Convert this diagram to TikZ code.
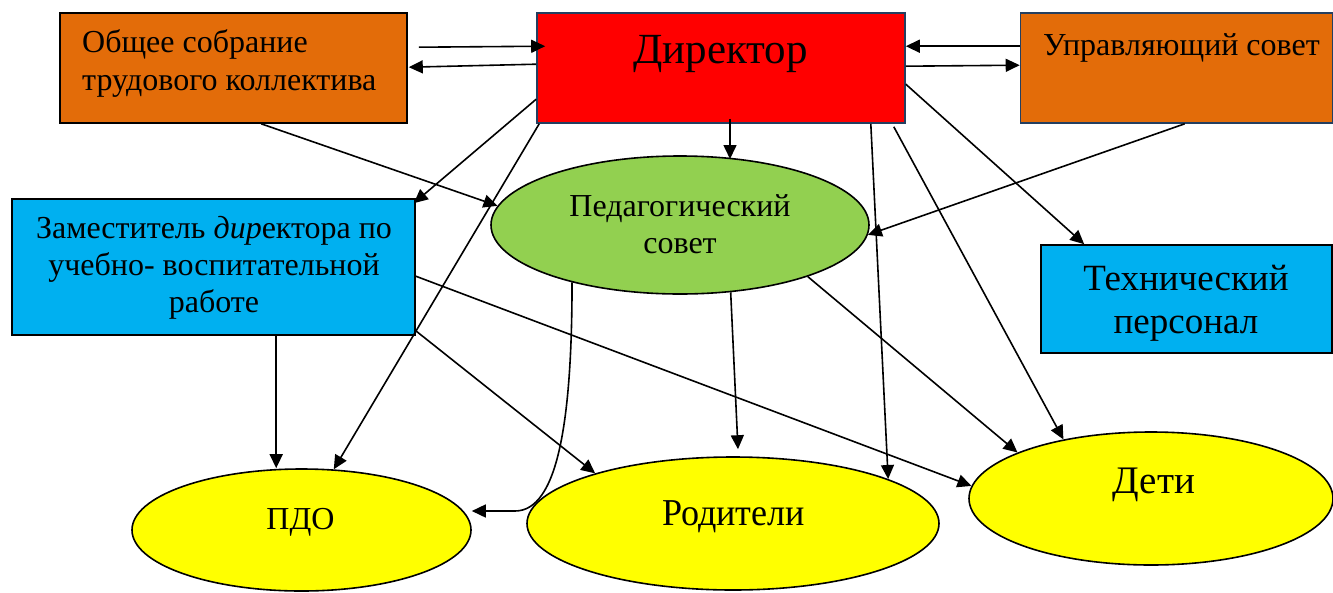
\documentclass[tikz,border=0pt]{standalone}
\usepackage{fontspec}
\setmainfont{Liberation Serif}
\usetikzlibrary{arrows.meta,shapes.geometric,calc}
\definecolor{orng}{HTML}{E36C09}
\definecolor{dblue}{HTML}{243F60}
\definecolor{cyanb}{HTML}{00B0F0}
\definecolor{grn}{HTML}{92D050}
\definecolor{yel}{HTML}{FFFF00}
\newcommand{\fs}[1]{\fontsize{#1}{#1}\selectfont}
\begin{document}
\begin{tikzpicture}[x=1pt,y=-1pt,
  box/.style={draw, line width=1.6pt, inner sep=0pt, rectangle},
  ell/.style={ellipse, draw, line width=1.6pt, inner sep=0pt},
  txt/.style={inner sep=0pt, text=black, anchor=base},
  con/.style={line width=1.6pt, -{Triangle[length=14pt,width=13pt]}}]
\useasboundingbox (0,0) rectangle (1333,592);
% boxes
\node[box, fill=orng, minimum width=347, minimum height=110] (obs) at (233.5,68) {};
\node[box, fill=red, draw=dblue, minimum width=368, minimum height=110] (dir) at (721,68) {};
\node[box, fill=orng, draw=dblue, minimum width=312, minimum height=110] (upr) at (1176.5,68) {};
\node[box, fill=cyanb, minimum width=403, minimum height=136] (zam) at (213.5,267) {};
\node[ell, fill=grn, minimum width=378, minimum height=138] (ped) at (680,225) {};
\node[box, fill=cyanb, minimum width=291, minimum height=108] (teh) at (1186.5,299) {};
\node[ell, fill=yel, minimum width=339, minimum height=122] (pdo) at (301.5,530) {};
\node[ell, fill=yel, minimum width=412, minimum height=133] (rod) at (733,523.5) {};
\node[ell, fill=yel, minimum width=364, minimum height=133] (det) at (1151,498.5) {};
% texts
\node[txt, anchor=base west, font=\fs{32}] (tobs1) at (82,52) {Общее собрание};
\node[txt, anchor=base west, font=\fs{32}] (tobs2) at (82,90) {трудового коллектива};
\node[txt, font=\fs{43}] (tdir) at (720.5,63) {Директор};
\node[txt, font=\fs{32}] (tupr) at (1181.5,55) {Управляющий совет};
\node[txt, font=\fs{32}] (tzam1) at (214,238) {Заместитель \textit{дир}ектора по};
\node[txt, font=\fs{32}] (tzam2) at (214,275) {учебно- воспитательной};
\node[txt, font=\fs{32}] (tzam3) at (214,312) {работе};
\node[txt, font=\fs{32}] (tped1) at (680,216) {Педагогический};
\node[txt, font=\fs{32}] (tped2) at (680,253) {совет};
\node[txt, font=\fs{37}] (tteh1) at (1186,290) {Технический};
\node[txt, font=\fs{37}] (tteh2) at (1186,333) {персонал};
\node[txt, font=\fs{32}] (tpdo) at (300.5,529) {ПДО};
\node[txt, font=\fs{38}, xscale=0.95] (trod) at (733.5,525) {Родители};
\node[txt, font=\fs{39}] (tdet) at (1154,493) {Дети};
% connectors
\draw[con] ($(obs.north east)+(11,35)$) -- ($(dir.north west)+(9,34)$);
\draw[con] ($(dir.north west)+(0,52)$) -- ($(obs.north east)+(1,55)$);
\draw[con] ($(upr.north west)+(0,34)$) -- ($(dir.north east)+(0,34)$);
\draw[con] ($(dir.north east)+(0,54)$) -- ($(upr.north west)+(0,53)$);
\draw[con] ($(dir.south)+(9,-5)$) -- ($(ped.center)+(50,-66)$);
\draw[con] ($(obs.south west)+(202,0)$) -- (ped.174);
\draw[con] ($(upr.south west)+(165,0)$) -- (ped.-3);
\draw[con] ($(dir.north west)+(0,87)$) -- ($(zam.north east)+(-2,5)$);
\draw[con] ($(dir.south west)+(3,0)$) -- (pdo.62);
\draw[con] ($(dir.south east)+(-35,0)$) -- (rod.16);
\draw[con] ($(dir.south east)+(-12,3)$) -- (det.146);
\draw[con] ($(dir.north east)+(0,72)$) -- ($(teh.north west)+(44,0)$);
\coordinate (z1) at ($(zam.south west)+(265,0)$);
\draw[con] (z1) -- (z1 |- pdo.north);
\draw[con] ($(zam.south east)+(0,-5)$) -- (rod.160);
\draw[con] ($(zam.north east)+(0,78)$) -- (det.176);
\coordinate (c1) at (515,511);
\draw[con] (ped.-152) .. controls (572,420) and (558,511) .. (c1) -- (c1 -| pdo.east);
\draw[con] (ped.-53) -- ($(rod.north)+(5,-7)$);
\draw[con] (ped.-22) -- (det.161);
\end{tikzpicture}
\end{document}
